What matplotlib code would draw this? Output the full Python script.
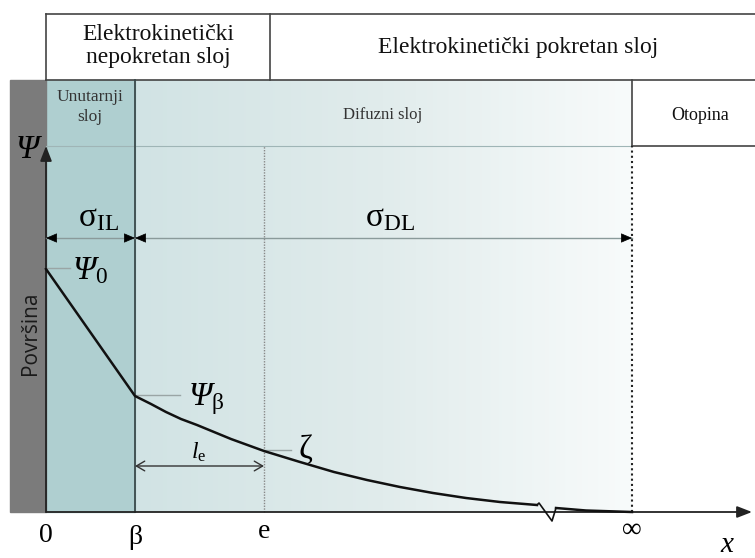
import numpy as np
import matplotlib.pyplot as plt
from matplotlib.patches import Rectangle
from matplotlib.colors import LinearSegmentedColormap

plt.rcParams['font.family'] = ['Liberation Serif', 'DejaVu Serif']
plt.rcParams['mathtext.fontset'] = 'custom'
plt.rcParams['mathtext.rm'] = 'Liberation Serif'
plt.rcParams['mathtext.it'] = 'Liberation Serif:italic'
plt.rcParams['mathtext.cal'] = 'Liberation Serif:italic'  # italic capital Psi

# positions along x (distance from the surface) and their tick labels
x_ticks = [0, 89, 218, 586]
x_tick_labels = ['0', 'β', 'e', '∞']

# potential profile
curve_x = [0, 89, 105, 120, 135, 151, 168, 185, 218, 254, 288, 321, 354, 387, 420, 454, 491]
curve_psi = [243, 116, 108, 100, 93, 87, 80, 73, 61, 50, 40, 32, 25, 19, 14, 10, 7]
# axis-break zigzag and the tail towards infinity
break_x = [491, 493, 506, 510]
break_psi = [7, 9, -9, 4]
tail_x = [510, 540, 586]
tail_psi = [4, 1.5, 0]

psi_0, psi_beta, zeta = curve_psi[0], curve_psi[1], curve_psi[8]
x_beta, x_e, x_inf = x_ticks[1], x_ticks[2], x_ticks[3]

fig = plt.figure(figsize=(7.55, 5.58), dpi=100)
ax = fig.add_axes([0, 0, 1, 1])
ax.axis('off')

# layers
cmap = LinearSegmentedColormap.from_list('dl', ['#d1e3e4', '#e1ecec', '#f8fbfb'])
ax.imshow(np.linspace(0, 1, 256)[None, :], extent=[x_beta, x_inf, 0, 432],
          cmap=cmap, aspect='auto', interpolation='bilinear', zorder=0)
ax.add_patch(Rectangle((0, 0), x_beta, 432, color='#afcfd0', zorder=1))
ax.add_patch(Rectangle((-36, 0), 36, 432, color='#7b7b7b', zorder=1))

# header boxes
hc = '#444444'
ax.plot([0, 709], [498, 498], color=hc, lw=1.2)
ax.plot([0, 709], [432, 432], color=hc, lw=1.2)
ax.plot([0, 0], [432, 498], color=hc, lw=1.2)
ax.plot([224, 224], [432, 498], color=hc, lw=1.2)
ax.plot([0, x_inf], [366, 366], color='#9fb5b6', lw=0.8)
ax.plot([x_inf, 709], [366, 366], color=hc, lw=1.2)
ax.plot([x_inf, x_inf], [366, 432], color=hc, lw=1.2)

# vertical markers
ax.plot([x_beta, x_beta], [0, 432], color='#3a4a4a', lw=1.3, zorder=2)
ax.plot([x_e, x_e], [0, 366], color='#888888', lw=1, ls=(0, (1, 1)), zorder=2)
ax.plot([x_inf, x_inf], [0, 366], color='#222222', lw=1.5, ls=(0, (1, 1.5)), zorder=2)

# axes with arrows
ax.annotate('', xy=(706, 0), xytext=(0, 0),
            arrowprops=dict(arrowstyle='-|>,head_length=0.9,head_width=0.35',
                            color='#222222', lw=1.3, shrinkA=0, shrinkB=0), zorder=3)
ax.annotate('', xy=(0, 366), xytext=(0, 0),
            arrowprops=dict(arrowstyle='-|>,head_length=0.9,head_width=0.35',
                            color='#222222', lw=1.3, shrinkA=0, shrinkB=0), zorder=3)

# potential curve
ax.plot(curve_x, curve_psi, color='#111111', lw=1.8, zorder=4)
ax.plot(break_x, break_psi, color='#111111', lw=1.2, zorder=4)
ax.plot(tail_x, tail_psi, color='#111111', lw=1.8, zorder=4)

# sigma arrows: grey shaft, black heads
y_sig = 274
def head(x_from, x_to, y):
    ax.annotate('', xy=(x_to, y), xytext=(x_from, y),
                arrowprops=dict(arrowstyle='-|>,head_length=0.7,head_width=0.3',
                                color='black', lw=0.5, shrinkA=0, shrinkB=0), zorder=5)

ax.plot([0, x_inf], [y_sig, y_sig], color='#8a9a9a', lw=1, zorder=3)
for a, b in [(0, x_beta), (x_beta, x_inf)]:
    head(a + 9, a, y_sig)
    head(b - 9, b, y_sig)

# l_e arrow
ax.annotate('', xy=(x_e, 46), xytext=(x_beta, 46),
            arrowprops=dict(arrowstyle='<->,head_length=0.6,head_width=0.35',
                            color='#333333', lw=1, shrinkA=0, shrinkB=0), zorder=3)

# leader lines
lc = '#9aa5a5'
ax.plot([0, 24], [psi_0 + 1, psi_0 + 1], color=lc, lw=1, zorder=3)
ax.plot([x_beta, x_beta + 45], [psi_beta + 1, psi_beta + 1], color=lc, lw=1, zorder=3)
ax.plot([x_e, x_e + 27], [zeta + 1, zeta + 1], color=lc, lw=1, zorder=3)

# texts
ax.text(112, 466, 'Elektrokinetički\nnepokretan sloj', ha='center', va='center',
        fontsize=17, linespacing=1.15, color='#111111')
ax.text(472, 465, 'Elektrokinetički pokretan sloj', ha='center', va='center',
        fontsize=17, color='#111111')
ax.text(44, 405, 'Unutarnji\nsloj', ha='center', va='center', fontsize=12.5,
        linespacing=1.3, color='#333333')
ax.text(337, 397, 'Difuzni sloj', ha='center', va='center', fontsize=12, color='#333333')
ax.text(654, 397, 'Otopina', ha='center', va='center', fontsize=13, color='#111111')

ax.text(-19, 362, 'Ψ', ha='center', va='center', fontsize=24, style='italic', zorder=6)
ax.text(-15, 179, 'Površina', ha='center', va='center', rotation=90, fontsize=15,
        family='Open Sans', color='#1a1a1a', zorder=6)

ax.text(52, 294, r'$\mathrm{σ}_{\mathrm{IL}}$', ha='center', va='center', fontsize=24)
ax.text(344, 294, r'$\mathrm{σ}_{\mathrm{DL}}$', ha='center', va='center', fontsize=24)

ax.text(26, 241, r'$\mathcal{Ψ}_{0}$', ha='left', va='center', fontsize=24)
ax.text(142, 113, r'$\mathcal{Ψ}_{\mathrm{β}}$', ha='left', va='center', fontsize=24)
ax.text(252, 62, 'ζ', ha='left', va='center', fontsize=24)
ax.text(153, 60, r'$l_{\mathrm{e}}$', ha='center', va='center', fontsize=17)

tick_y = [-23, -26, -19, -18]
for xv, lab, ty in zip(x_ticks, x_tick_labels, tick_y):
    ax.text(xv, ty, lab, ha='center', va='center', fontsize=20)
ax.text(681, -33, 'x', ha='center', va='center', fontsize=21, style='italic')

ax.set_xlim(-46, 709)
ax.set_ylim(-46, 512)

fig.savefig('out.png', dpi=100)
